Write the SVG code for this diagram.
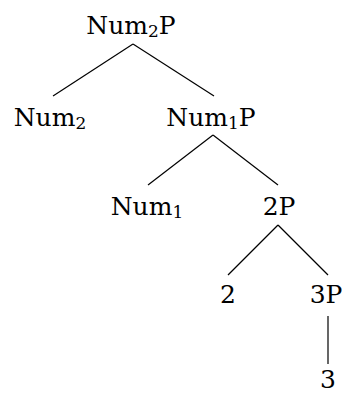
<svg xmlns="http://www.w3.org/2000/svg" width="342" height="394" viewBox="0 0 342 394">
<style>
text{font-family:"DejaVu Serif","Liberation Serif",serif;font-size:25px;fill:#000;text-anchor:middle}
.sub{font-size:17px}
line{stroke:#000;stroke-width:1.2}
</style>
<rect width="342" height="394" fill="#fff"/>
<g id="connectors">
<line x1="133" y1="44" x2="53" y2="96"/>
<line x1="133" y1="44" x2="214" y2="96"/>
<line x1="213" y1="135" x2="148" y2="185"/>
<line x1="213" y1="135" x2="278" y2="185"/>
<line x1="278" y1="225" x2="228" y2="275"/>
<line x1="278" y1="225" x2="328" y2="275"/>
<line x1="328" y1="316" x2="328" y2="364"/>
</g>
<g id="num2p"><text x="131" y="34">Num<tspan class="sub" dy="3">2</tspan><tspan dy="-3">P</tspan></text></g>
<g id="num2"><text x="50" y="126">Num<tspan class="sub" dy="3">2</tspan></text></g>
<g id="num1p"><text x="211" y="126">Num<tspan class="sub" dy="3">1</tspan><tspan dy="-3">P</tspan></text></g>
<g id="num1"><text x="147" y="215">Num<tspan class="sub" dy="3">1</tspan></text></g>
<g id="n2p"><text x="279" y="215">2P</text></g>
<g id="n2"><text x="228" y="303">2</text></g>
<g id="n3p"><text x="326" y="303">3P</text></g>
<g id="n3"><text x="328" y="388">3</text></g>
</svg>
